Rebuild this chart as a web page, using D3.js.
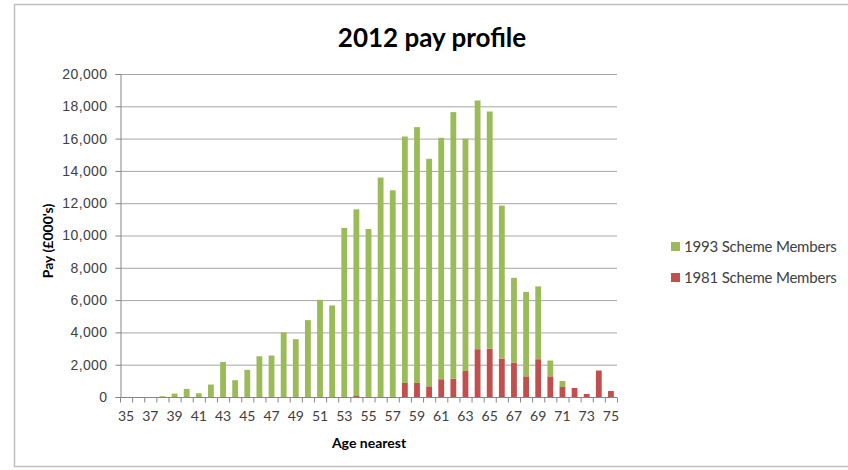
<!DOCTYPE html>
<html><head><meta charset="utf-8">
<script src="https://cdn.jsdelivr.net/npm/d3@7"></script>
<style>body{margin:0;background:#fff;}svg{display:block;font-family:Lato,"Open Sans",sans-serif;}</style>
</head><body>
<svg id="c" width="848" height="470"></svg>
<script>
const ages = d3.range(35, 76);
const scheme1993 = [0,0,0,50,210,500,230,770,2170,1040,1680,2520,2570,4000,3580,4760,6020,5670,10470,11520,10400,13590,12800,15260,15840,14090,14950,16500,14390,15400,14690,9470,5250,5230,4510,980,370,0,0,0,0];
const scheme1981 = [0,0,0,0,0,0,0,0,0,0,0,0,0,0,0,0,0,0,0,100,0,0,0,870,870,660,1100,1140,1610,2960,2990,2380,2130,1280,2340,1280,620,560,190,1640,370];
const yTicks = [0,2000,4000,6000,8000,10000,12000,14000,16000,18000,20000];
const seriesNames = ["1981 Scheme Members","1993 Scheme Members"];
const colors = {"1981 Scheme Members":"#c0504d","1993 Scheme Members":"#9bbb59"};

const svg = d3.select("#c");
svg.append("rect").attr("x",14.5).attr("y",4.5).attr("width",850).attr("height",462)
  .attr("fill","#fff").attr("stroke","#bfbfbf").attr("stroke-width",1.5);

const m = {l:120, r:617, t:74, b:397};
const x = d3.scaleBand().domain(ages).range([m.l, m.r]).paddingInner(0.52).paddingOuter(0.26);
const y = d3.scaleLinear().domain([0,20000]).range([m.b, m.t]);

const table = ages.map((a,i)=>({age:a, "1981 Scheme Members":scheme1981[i], "1993 Scheme Members":scheme1993[i]}));
const stack = d3.stack().keys(seriesNames)(table);

svg.append("g").selectAll("line").data(yTicks.filter(d=>d>0)).join("line")
  .attr("x1",m.l).attr("x2",m.r).attr("y1",d=>y(d)+0.5).attr("y2",d=>y(d)+0.5)
  .attr("stroke","#a6a6a6").attr("stroke-width",1);

svg.append("g").selectAll("g").data(stack).join("g").attr("fill",d=>colors[d.key])
  .selectAll("rect").data(d=>d).join("rect")
  .attr("x",d=>x(d.data.age)).attr("width",x.bandwidth())
  .attr("y",d=>y(d[1])).attr("height",d=>Math.max(0,y(d[0])-y(d[1])));

const yAxis = d3.axisLeft(y).tickValues(yTicks).tickFormat(d3.format(",")).tickSize(5).tickPadding(8);
const gy = svg.append("g").attr("transform",`translate(${m.l+0.5},0)`).call(yAxis);
gy.select(".domain").attr("stroke","#868686");
gy.selectAll(".tick line").attr("stroke","#868686");
gy.selectAll("text").attr("font-size",14).attr("fill","#404040").attr("letter-spacing","0.4");

const xb = d3.scaleLinear().domain([0, ages.length]).range([m.l, m.r]);
const gx = svg.append("g").attr("transform",`translate(0,${m.b+0.5})`);
gx.append("line").attr("x1",m.l).attr("x2",m.r).attr("stroke","#868686");
gx.selectAll(".tk").data(d3.range(ages.length+1)).join("line").attr("class","tk")
  .attr("x1",d=>xb(d)+0.5).attr("x2",d=>xb(d)+0.5).attr("y1",0).attr("y2",5).attr("stroke","#868686");
gx.selectAll("text").data(ages.filter((a,i)=>i%2===0)).join("text")
  .attr("x",d=>x(d)+x.bandwidth()/2).attr("y",23).attr("text-anchor","middle")
  .attr("font-size",14).attr("fill","#404040").text(d=>d);

svg.append("text").attr("x",432).attr("y",47).attr("text-anchor","middle")
  .attr("font-size",26).attr("font-weight","bold").attr("fill","#000").text("2012 pay profile");
svg.append("text").attr("x",369).attr("y",448).attr("text-anchor","middle")
  .attr("font-size",14).attr("font-weight","bold").attr("fill","#000").text("Age nearest");
svg.append("text").attr("transform","translate(53,241) rotate(-90)").attr("text-anchor","middle")
  .attr("font-size",14).attr("font-weight","bold").attr("fill","#000").text("Pay (£000's)");

const legendItems = ["1993 Scheme Members","1981 Scheme Members"];
const lg = svg.append("g").selectAll("g").data(legendItems).join("g")
  .attr("transform",(d,i)=>`translate(671,${242+i*31})`);
lg.append("rect").attr("width",9).attr("height",9).attr("fill",d=>colors[d]);
lg.append("text").attr("x",13).attr("y",9.5).attr("font-size",15).attr("fill","#404040")
  .attr("letter-spacing","-0.2").text(d=>d);
</script>
</body></html>
